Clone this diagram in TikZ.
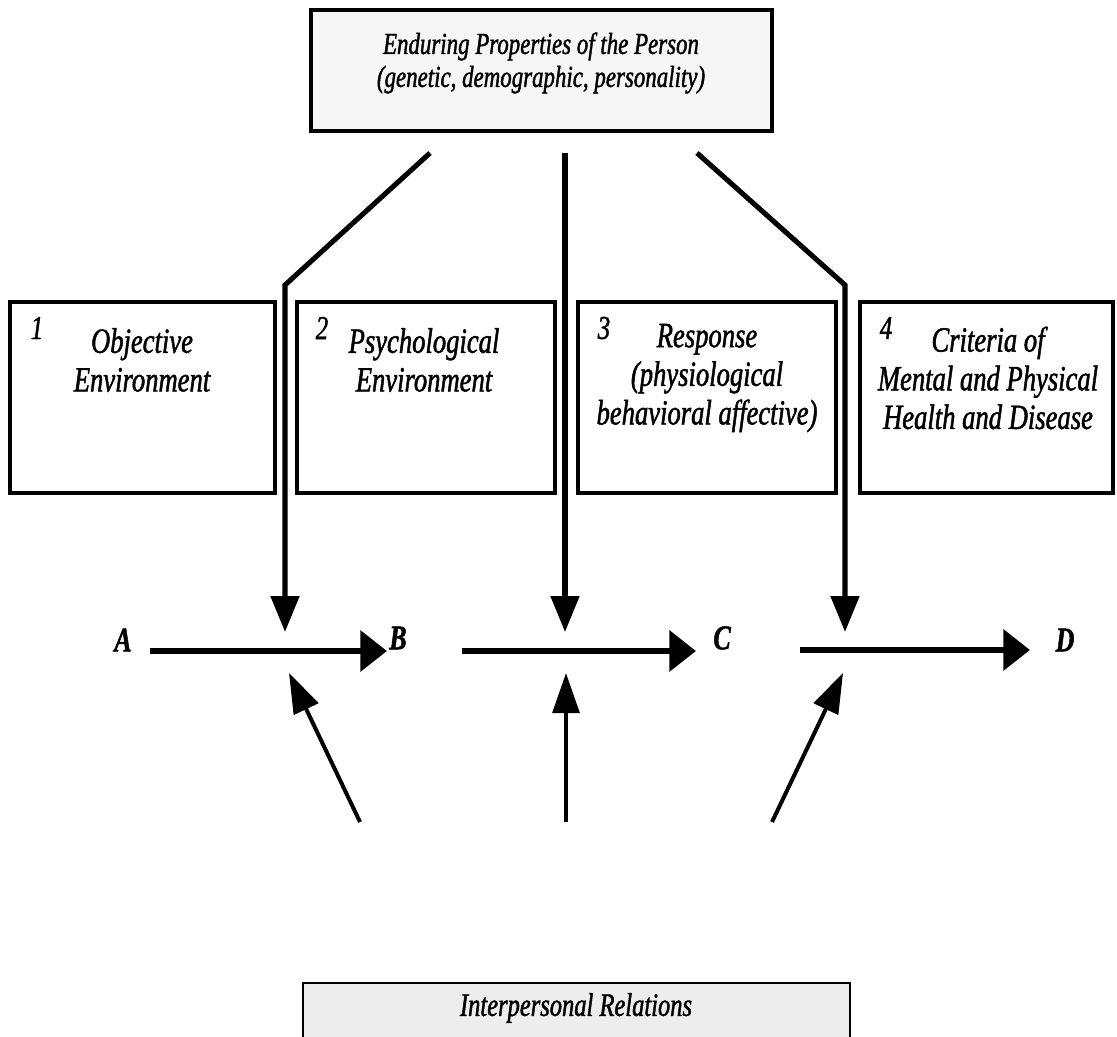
\documentclass[tikz,border=0pt]{standalone}
\usepackage{fontspec}
\setmainfont{Liberation Serif}[FakeStretch=0.75, FakeBold=1.3]
\usetikzlibrary{arrows.meta}

\tikzset{
  heavybox/.style={draw, line width=3.6pt, inner sep=0pt},
  topbox/.style={heavybox, fill=gray!7, minimum width=345.75pt, minimum height=90.75pt},
  stagebox/.style={heavybox, fill=white, minimum height=143.25pt},
  basebox/.style={draw, line width=1.4pt, fill=gray!14, inner sep=0pt,
                  minimum width=410.25pt, minimum height=45pt},
  boxtext/.style={align=center, font=\fontsize{26.6}{29}\selectfont\itshape, inner sep=0pt},
  headtext/.style={align=center, font=\fontsize{22.9}{24.75}\selectfont\itshape, inner sep=0pt},
  numtext/.style={font=\fontsize{25}{25}\selectfont\itshape, inner sep=0pt},
  pointlabel/.style={font=\fontsize{26}{26}\selectfont\bfseries\itshape, inner sep=0pt},
  influence/.style={line width=3.8pt, line join=miter,
                    -{Triangle[length=27pt, width=21pt]}},
  support/.style={line width=3pt,
                  -{Triangle[length=30pt, width=20pt]}},
  flow/.style={line width=5.2pt,
               -{Triangle[length=20pt, width=30pt]}}
}

\begin{document}
\begin{tikzpicture}[x=0.75pt, y=-0.75pt]
  \clip (0,0) rectangle (1117,1037);
  \fill[white] (0,0) rectangle (1117,1037);

  % person box at the top
  \node[topbox] (person) at (541.5,70.5) {};
  \node[headtext] (persontext) at (541,63)
    {Enduring Properties of the Person\\(genetic, demographic, personality)};

  % the four stages
  \node[stagebox, minimum width=198.75pt] (s1) at (142.5,397.5) {};
  \node[stagebox, minimum width=193.5pt]  (s2) at (426,397.5) {};
  \node[stagebox, minimum width=193.5pt]  (s3) at (707,397.5) {};
  \node[stagebox, minimum width=189.75pt] (s4) at (986.5,397.5) {};

  \node[numtext] (n1) at (37,328) {1};
  \node[numtext] (n2) at (322,328) {2};
  \node[numtext] (n3) at (604,328) {3};
  \node[numtext] (n4) at (886,328) {4};

  \node[boxtext] (t1) at (142,360) {Objective\\Environment};
  \node[boxtext] (t2) at (424,360) {Psychological\\Environment};
  \node[boxtext] (t3) at (707,378) {Response\\(physiological\\behavioral affective)};
  \node[boxtext] (t4) at (988,378) {Criteria of\\Mental and Physical\\Health and Disease};

  % interpersonal relations box at the bottom
  \node[basebox] (rel) at (576.5,1013) {};
  \node[headtext, font=\fontsize{24.5}{25}\selectfont\itshape] (reltext) at (576,1008) {Interpersonal Relations};

  % points along the sequence
  \node[pointlabel] (A) at (123,640) {A};
  \node[pointlabel] (B) at (398,638) {B};
  \node[pointlabel] (C) at (722,638) {C};
  \node[pointlabel] (D) at (1065,640) {D};

  \coordinate (a1) at (150,651);  \coordinate (b1) at (387,651);
  \coordinate (a2) at (462,651);  \coordinate (b2) at (696,651);
  \coordinate (a3) at (800,650);  \coordinate (b3) at (1030,650);

  \draw[flow] (a1) -- (b1);
  \draw[flow] (a2) -- (b2);
  \draw[flow] (a3) -- (b3);

  % influences of the person
  \coordinate (p1) at (430,153);  \coordinate (k1) at (285,285);  \coordinate (e1) at (285,632);
  \coordinate (p2) at (565,153);  \coordinate (e2) at (565,632);
  \coordinate (p3) at (697,153);  \coordinate (k3) at (845,285);  \coordinate (e3) at (845,632);

  \draw[influence] (p1) -- (k1) -- (e1);
  \draw[influence] (p2) -- (e2);
  \draw[influence] (p3) -- (k3) -- (e3);

  % influences of interpersonal relations
  \coordinate (r1) at (360,822);  \coordinate (u1) at (289,673);
  \coordinate (r2) at (566,822);  \coordinate (u2) at (566,673);
  \coordinate (r3) at (772,822);  \coordinate (u3) at (843,673);

  \draw[support] (r1) -- (u1);
  \draw[support] (r2) -- (u2);
  \draw[support] (r3) -- (u3);
\end{tikzpicture}
\end{document}
